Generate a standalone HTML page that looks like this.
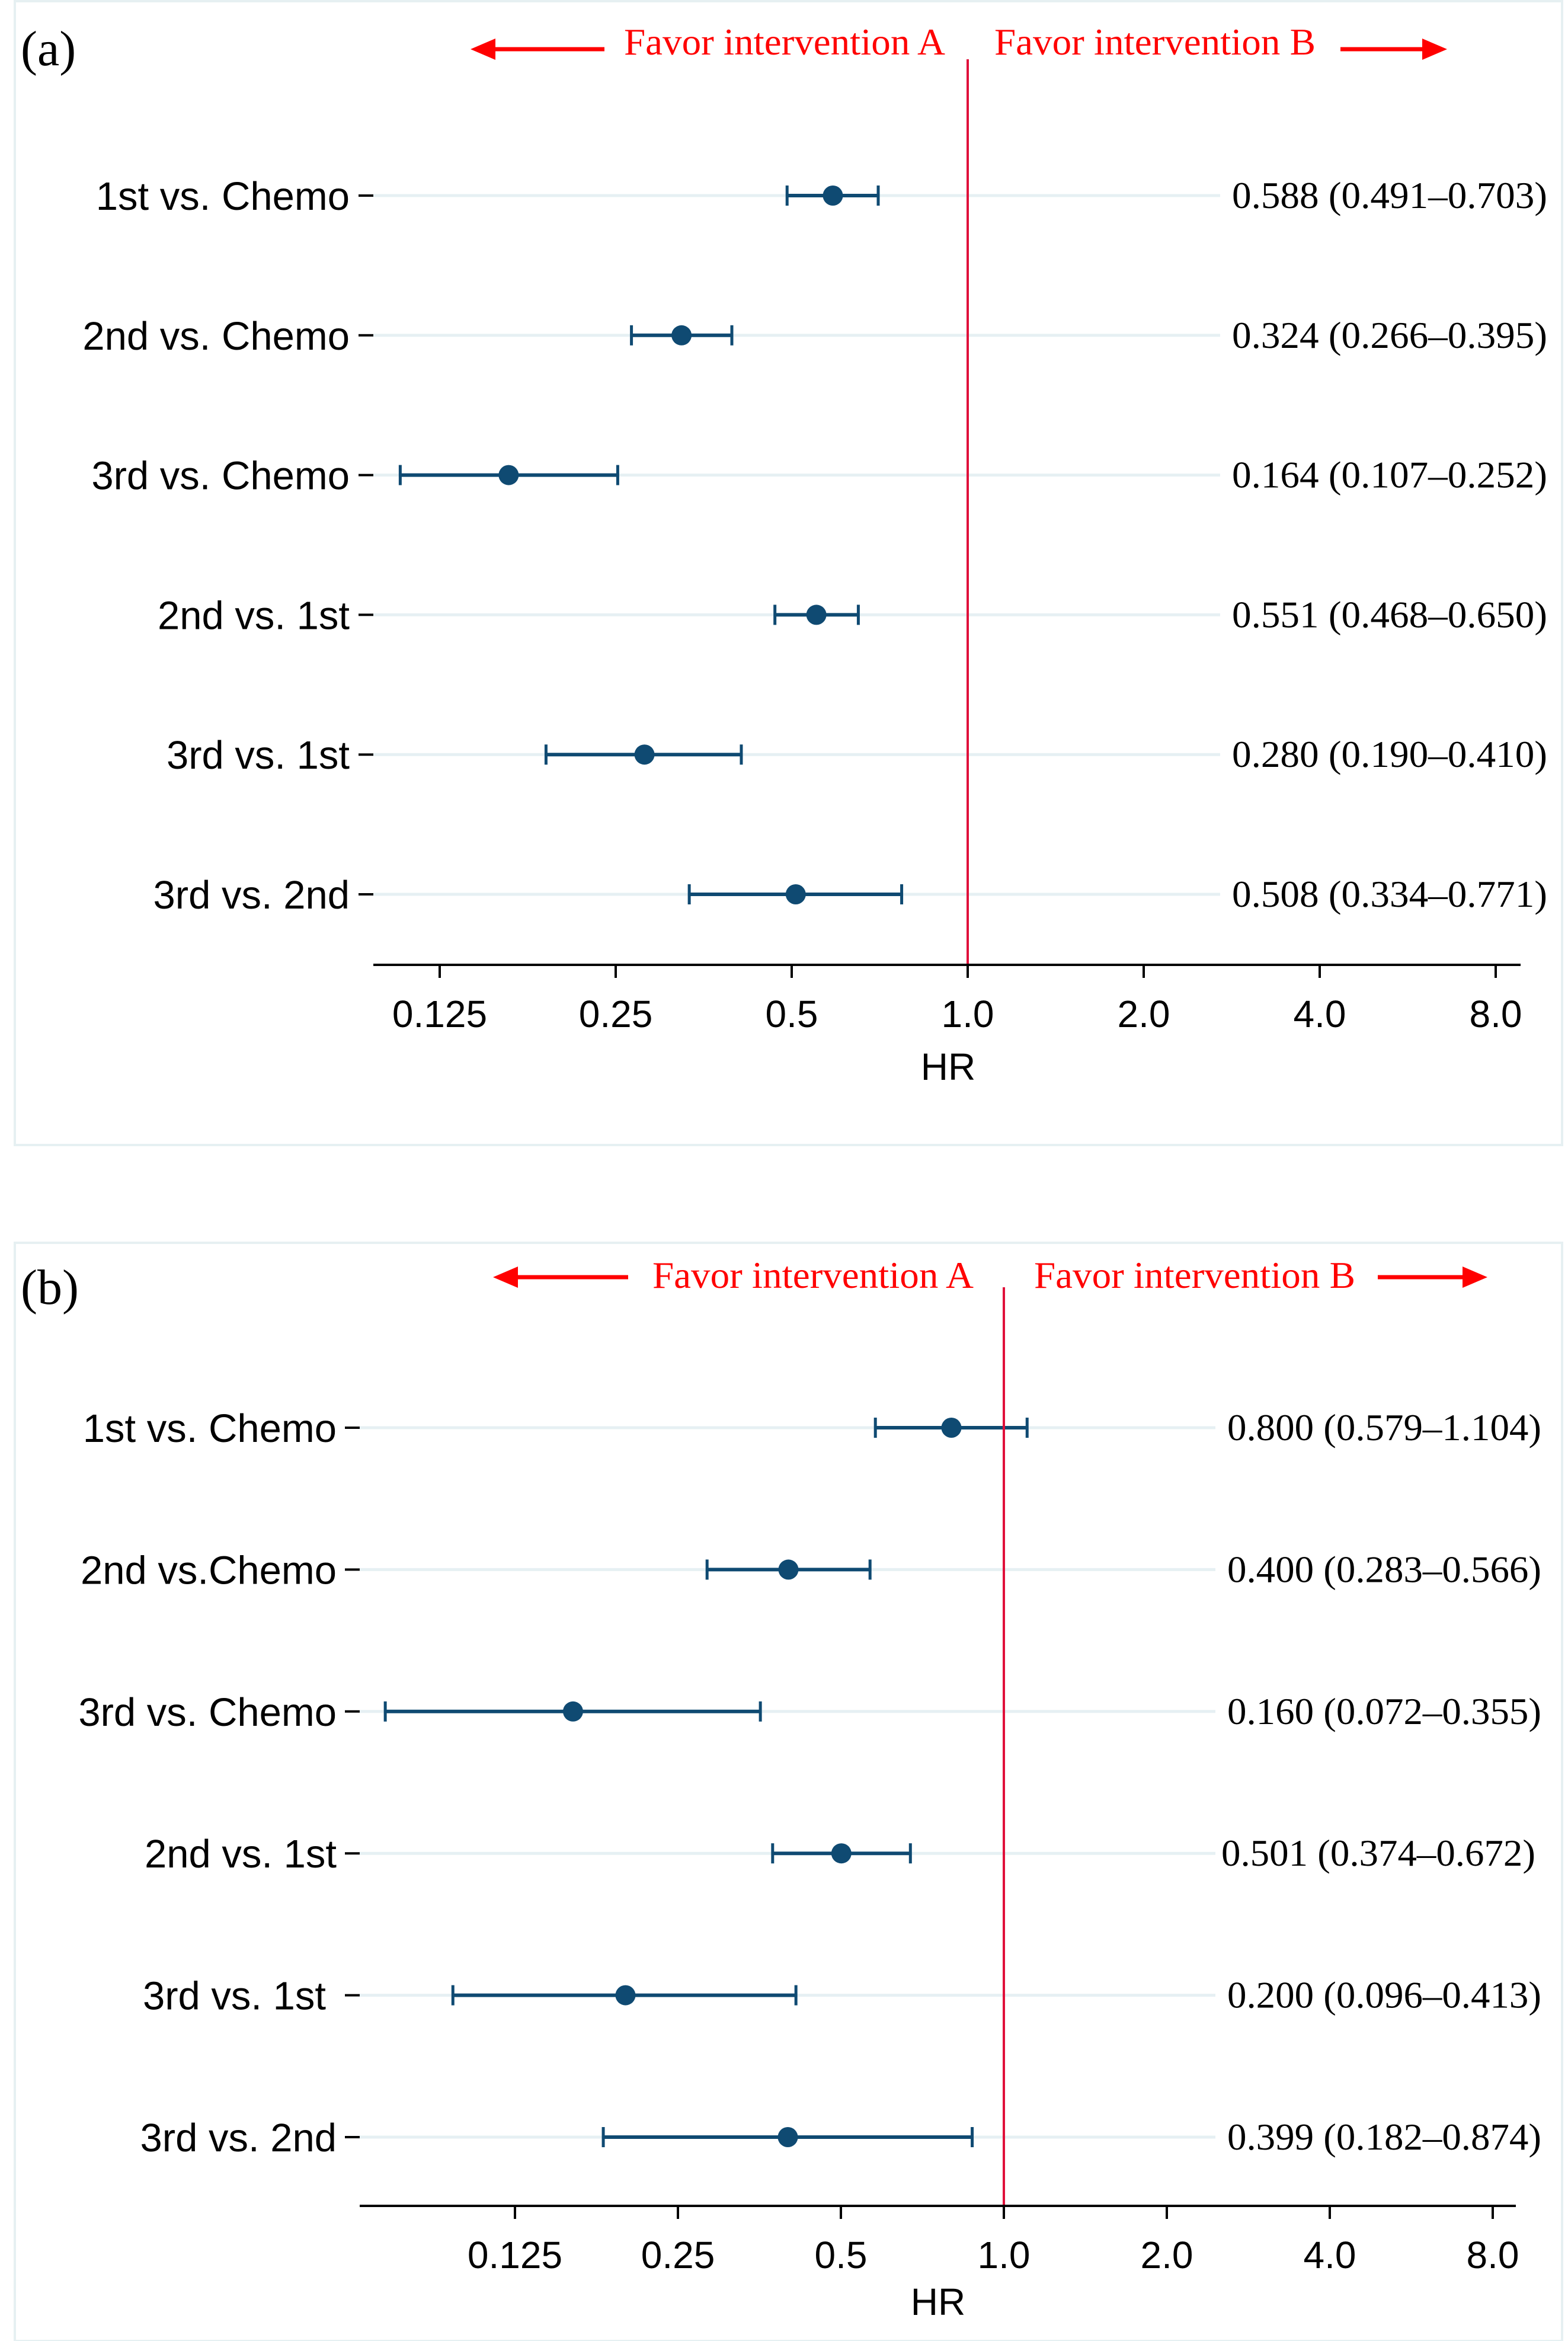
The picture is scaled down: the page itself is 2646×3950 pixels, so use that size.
<!DOCTYPE html>
<html><head><meta charset="utf-8"><style>
html,body{margin:0;padding:0;background:#fff}
svg{display:block}
</style></head><body>
<svg id="chart" width="2646" height="3950" viewBox="0 0 2646 3950" xmlns="http://www.w3.org/2000/svg"></svg>
<script>
// Panel (a) data
const labelsA = ["1st vs. Chemo","2nd vs. Chemo","3rd vs. Chemo","2nd vs. 1st","3rd vs. 1st","3rd vs. 2nd"];
const hrA = [0.588,0.324,0.164,0.551,0.280,0.508];
const lowA = [0.491,0.266,0.107,0.468,0.190,0.334];
const highA = [0.703,0.395,0.252,0.650,0.410,0.771];
const textA = ["0.588 (0.491–0.703)","0.324 (0.266–0.395)","0.164 (0.107–0.252)","0.551 (0.468–0.650)","0.280 (0.190–0.410)","0.508 (0.334–0.771)"];
// Panel (b) data
const labelsB = ["1st vs. Chemo","2nd vs.Chemo","3rd vs. Chemo","2nd vs. 1st","3rd vs. 1st","3rd vs. 2nd"];
const hrB = [0.800,0.400,0.160,0.501,0.200,0.399];
const lowB = [0.579,0.283,0.072,0.374,0.096,0.182];
const highB = [1.104,0.566,0.355,0.672,0.413,0.874];
const textB = ["0.800 (0.579–1.104)","0.400 (0.283–0.566)","0.160 (0.072–0.355)","0.501 (0.374–0.672)","0.200 (0.096–0.413)","0.399 (0.182–0.874)"];
const tickVals = [0.125,0.25,0.5,1.0,2.0,4.0,8.0];
const tickLabels = ["0.125","0.25","0.5","1.0","2.0","4.0","8.0"];

const svg = document.getElementById('chart');
const NS = 'http://www.w3.org/2000/svg';
function mk(tag, attrs, parent){
  const e = document.createElementNS(NS, tag);
  for (const k in attrs) e.setAttribute(k, attrs[k]);
  (parent||svg).appendChild(e);
  return e;
}
const NAVY = '#0f4a72';
const SANS = '"Liberation Sans", Arial, sans-serif';
const SERIF = '"Liberation Serif", "Times New Roman", serif';

function panel(cfg, labels, hr, low, high, txt){
  const g = mk('g', {});
  
  
  const box = mk('rect', {x:cfg.box[0], y:cfg.box[1], width:cfg.box[2], height:cfg.box[3], fill:'#fff', stroke:'#e6f0f2', 'stroke-width':4}, g);
  
  
  const xs = v => cfg.x1 + Math.log2(v) * cfg.dx;
  const ys = i => cfg.y0 + i * cfg.dy;
  const pl = mk('text', {x:cfg.box[0]+10, y:cfg.tagY, 'font-family':SERIF, 'font-size':84, fill:'#000'}, g);
  pl.textContent = '(' + cfg.id + ')';
  
  
  for (let i = 0; i < labels.length; i++){
    const y = ys(i);
    const gl = mk('line', {x1:cfg.axX0, x2:cfg.textX-20, y1:y, y2:y, stroke:'#e6f0f3', 'stroke-width':5}, g);
    
    
    const tk = mk('line', {x1:cfg.axX0-25, x2:cfg.axX0, y1:y, y2:y, stroke:'#000', 'stroke-width':4}, g);
    
    
    const lb = mk('text', {x:cfg.labelX + (cfg.labelOff && cfg.labelOff[i] || 0), y:y+24, 'text-anchor':'end', 'font-family':SANS, 'font-size':67, fill:'#000'}, g);
    lb.textContent = labels[i];
    
    
    const ci = mk('line', {x1:xs(low[i]), x2:xs(high[i]), y1:y, y2:y, stroke:NAVY, 'stroke-width':6}, g);
    
    
    [low[i], high[i]].forEach(v => {
      const c = mk('line', {x1:xs(v), x2:xs(v), y1:y-17, y2:y+17, stroke:NAVY, 'stroke-width':5}, g);
      
      
    });
    const pt = mk('circle', {cx:xs(hr[i]), cy:y, r:17, fill:NAVY}, g);
    
    
    const vt = mk('text', {x:cfg.textX + (cfg.textOff && cfg.textOff[i] || 0), y:y+21, 'font-family':SERIF, 'font-size':63, fill:'#000', textLength:cfg.textW, lengthAdjust:'spacingAndGlyphs'}, g);
    vt.textContent = txt[i];
    
    
  }
  const rl = mk('line', {x1:xs(1), x2:xs(1), y1:cfg.refTop, y2:cfg.axY, stroke:'#e0103a', 'stroke-width':4}, g);
  
  
  const ax = mk('line', {x1:cfg.axX0, x2:cfg.axX1, y1:cfg.axY, y2:cfg.axY, stroke:'#000', 'stroke-width':4}, g);
  
  
  tickVals.forEach((v, k) => {
    const t = mk('line', {x1:xs(v), x2:xs(v), y1:cfg.axY, y2:cfg.axY+22, stroke:'#000', 'stroke-width':4}, g);
    
    
    const tl = mk('text', {x:xs(v), y:cfg.tickY, 'text-anchor':'middle', 'font-family':SANS, 'font-size':64, fill:'#000'}, g);
    tl.textContent = tickLabels[k];
    
    
  });
  const at = mk('text', {x:cfg.hrX, y:cfg.hrY, 'text-anchor':'middle', 'font-family':SANS, 'font-size':64, fill:'#000'}, g);
  at.textContent = 'HR';
  
  
  const fa = mk('text', {x:cfg.favA[0], y:cfg.headY, 'font-family':SERIF, 'font-size':63, fill:'#ff0000', textLength:cfg.favA[1]-cfg.favA[0], lengthAdjust:'spacingAndGlyphs'}, g);
  fa.textContent = 'Favor intervention A';
  
  
  const fb = mk('text', {x:cfg.favB[0], y:cfg.headY, 'font-family':SERIF, 'font-size':63, fill:'#ff0000', textLength:cfg.favB[1]-cfg.favB[0], lengthAdjust:'spacingAndGlyphs'}, g);
  fb.textContent = 'Favor intervention B';
  
  
  const ay = cfg.arrowY;
  const la = mk('g', {}, g);
  
  
  mk('line', {x1:cfg.arrL[0]+30, x2:cfg.arrL[1], y1:ay, y2:ay, stroke:'#ff0000', 'stroke-width':7}, la);
  mk('polygon', {points:`${cfg.arrL[0]},${ay} ${cfg.arrL[0]+42},${ay-18} ${cfg.arrL[0]+42},${ay+18}`, fill:'#ff0000'}, la);
  const ra = mk('g', {}, g);
  
  
  mk('line', {x1:cfg.arrR[0], x2:cfg.arrR[1]-30, y1:ay, y2:ay, stroke:'#ff0000', 'stroke-width':7}, ra);
  mk('polygon', {points:`${cfg.arrR[1]},${ay} ${cfg.arrR[1]-42},${ay-18} ${cfg.arrR[1]-42},${ay+18}`, fill:'#ff0000'}, ra);
}

panel({id:'a', box:[25,2,2611,1930], tagY:110, x1:1633, dx:297, y0:330, dy:235.8,
  axX0:630, axX1:2566, axY:1628, labelX:590, textX:2079, textW:532, refTop:100,
  tickY:1733, hrX:1600, hrY:1822, headY:92, favA:[1053,1595], favB:[1678,2220],
  arrowY:83, arrL:[794,1020], arrR:[2262,2442]}, labelsA, hrA, lowA, highA, textA);

panel({id:'b', box:[25,2097,2611,1853], tagY:2200, x1:1694, dx:275, y0:2409, dy:239.4,
  axX0:607, axX1:2558, axY:3722, labelX:568, labelOff:[0,0,0,0,-18,0], textX:2071, textW:530, textOff:[0,0,0,-10,0,0], refTop:2172,
  tickY:3827, hrX:1583, hrY:3906, headY:2173, favA:[1101,1643], favB:[1745,2287],
  arrowY:2155, arrL:[832,1060], arrR:[2325,2510]}, labelsB, hrB, lowB, highB, textB);
</script>
</body></html>
